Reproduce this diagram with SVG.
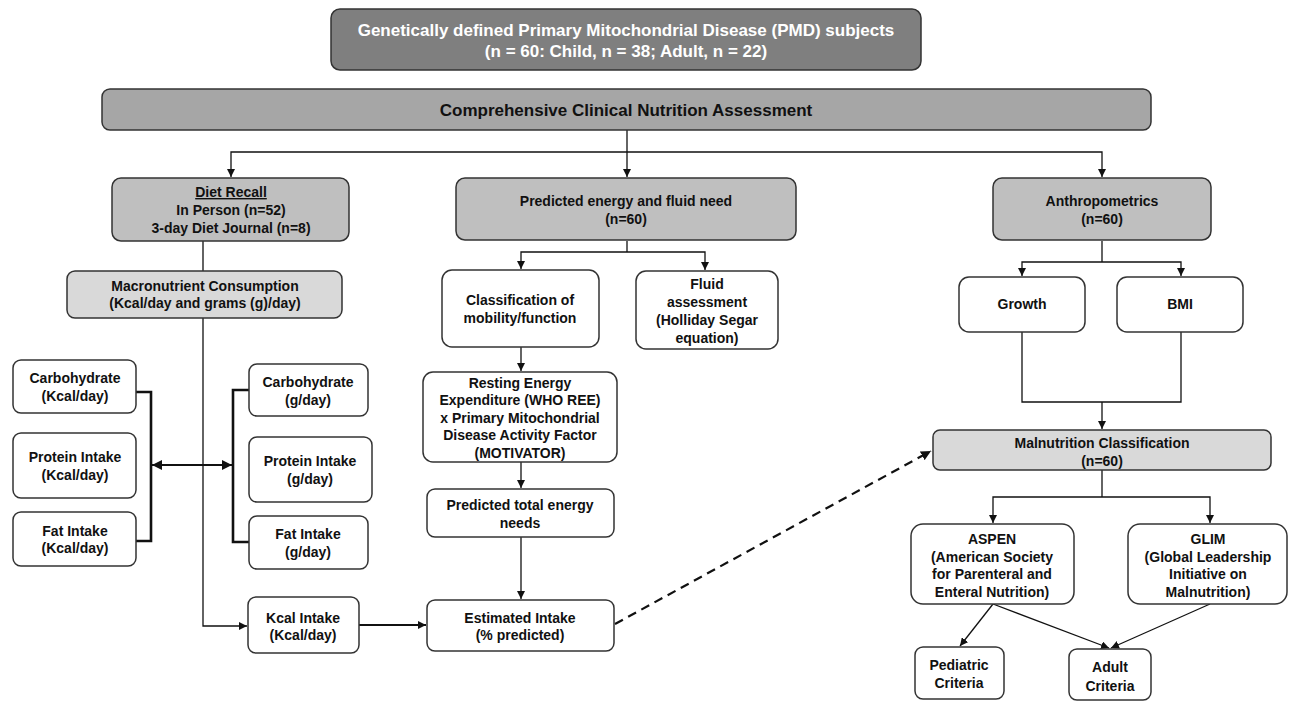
<svg xmlns="http://www.w3.org/2000/svg" width="1294" height="701" viewBox="0 0 1294 701">
<defs>
<style>
text{font-family:"Liberation Sans",Arial,sans-serif;font-weight:bold;font-size:14px;fill:#111;text-anchor:middle}
.big{font-size:17px}
.wt{fill:#fff}
.box{stroke:#333;stroke-width:1.5}
.w{fill:#fff}
.g1{fill:#7f7f7f}
.g2{fill:#a6a6a6}
.g3{fill:#bfbfbf}
.g4{fill:#d9d9d9}
.c{fill:none;stroke:#111;stroke-width:1.3}
.t{fill:none;stroke:#111;stroke-width:2.6}
.d{fill:none;stroke:#111;stroke-width:2.2;stroke-dasharray:9,6}
</style>
<marker id="a" viewBox="0 0 8 8" refX="8" refY="4" markerWidth="8" markerHeight="8" markerUnits="userSpaceOnUse" orient="auto-start-reverse">
<path d="M0,0 L8,4 L0,8 z" fill="#111"/>
</marker>
<marker id="ab" viewBox="0 0 8 8" refX="8" refY="4" markerWidth="10" markerHeight="10" markerUnits="userSpaceOnUse" orient="auto-start-reverse">
<path d="M0,0 L8,4 L0,8 z" fill="#111"/>
</marker>
</defs>

<g id="connectors">
<path class="c" d="M627,130 V177" marker-end="url(#a)"/>
<path class="c" d="M231,177 V152 H1102 V177" marker-start="url(#a)" marker-end="url(#a)"/>
<path class="c" d="M203,241 V626 H247" marker-end="url(#a)"/>
<path class="t" d="M136,392 H151 V541 H136"/>
<path class="t" d="M249,390 H233 V542 H249"/>
<path class="c" style="stroke-width:2.2" d="M152,465 H232" marker-start="url(#ab)" marker-end="url(#ab)"/>
<path class="c" d="M627,241 V252"/>
<path class="c" d="M521,269 V252 H705 V270" marker-start="url(#a)" marker-end="url(#a)"/>
<path class="c" d="M521,347 V371" marker-end="url(#a)"/>
<path class="c" d="M521,462 V488" marker-end="url(#a)"/>
<path class="c" d="M521,537 V599" marker-end="url(#a)"/>
<path class="c" style="stroke-width:2" d="M359,625 H426" marker-end="url(#a)"/>
<path class="d" d="M615,624 L931,451" marker-end="url(#ab)"/>
<path class="c" d="M1102,241 V262"/>
<path class="c" d="M1022,276 V262 H1181 V276" marker-start="url(#a)" marker-end="url(#a)"/>
<path class="c" d="M1022,332 V402 H1181 V332"/>
<path class="c" d="M1102,402 V429" marker-end="url(#a)"/>
<path class="c" d="M1102,470 V497"/>
<path class="c" d="M993,523 V497 H1210 V523" marker-start="url(#a)" marker-end="url(#a)"/>
<path class="c" d="M993,604 L960,646" marker-end="url(#a)"/>
<path class="c" d="M993,604 L1109,648" marker-end="url(#a)"/>
<path class="c" d="M1210,604 L1111,648" marker-end="url(#a)"/>
</g>

<g id="pmd">
<rect class="box g1" x="331" y="9" width="590" height="61" rx="9"/>
<text class="big wt" x="626" y="36">Genetically defined Primary Mitochondrial Disease (PMD) subjects</text>
<text class="big wt" x="626" y="57">(n = 60: Child, n = 38; Adult, n = 22)</text>
</g>

<g id="assessment">
<rect class="box g2" x="102" y="89" width="1049" height="41" rx="8"/>
<text class="big" x="626" y="116">Comprehensive Clinical Nutrition Assessment</text>
</g>

<g id="diet-recall">
<rect class="box g3" x="112" y="178" width="237" height="63" rx="9"/>
<text x="231" y="197" text-decoration="underline">Diet Recall</text>
<text x="231" y="215">In Person (n=52)</text>
<text x="231" y="233">3-day Diet Journal (n=8)</text>
</g>

<g id="predicted-energy">
<rect class="box g3" x="456" y="178" width="340" height="62" rx="9"/>
<text x="626" y="206">Predicted energy and fluid need</text>
<text x="626" y="224">(n=60)</text>
</g>

<g id="anthropometrics">
<rect class="box g3" x="993" y="178" width="218" height="62" rx="9"/>
<text x="1102" y="206">Anthropometrics</text>
<text x="1102" y="224">(n=60)</text>
</g>

<g id="macronutrient">
<rect class="box g4" x="67" y="271" width="275" height="47" rx="8"/>
<text x="205" y="291">Macronutrient Consumption</text>
<text x="205" y="308">(Kcal/day and grams (g)/day)</text>
</g>

<g id="carb-kcal">
<rect class="box w" x="13" y="360" width="123" height="53" rx="8"/>
<text x="75" y="383">Carbohydrate</text>
<text x="75" y="401">(Kcal/day)</text>
</g>
<g id="protein-kcal">
<rect class="box w" x="13" y="433" width="123" height="65" rx="8"/>
<text x="75" y="462">Protein Intake</text>
<text x="75" y="480">(Kcal/day)</text>
</g>
<g id="fat-kcal">
<rect class="box w" x="13" y="512" width="123" height="54" rx="8"/>
<text x="75" y="536">Fat Intake</text>
<text x="75" y="553">(Kcal/day)</text>
</g>

<g id="carb-g">
<rect class="box w" x="249" y="364" width="119" height="52" rx="8"/>
<text x="308" y="387">Carbohydrate</text>
<text x="308" y="405">(g/day)</text>
</g>
<g id="protein-g">
<rect class="box w" x="249" y="437" width="123" height="65" rx="8"/>
<text x="310" y="466">Protein Intake</text>
<text x="310" y="484">(g/day)</text>
</g>
<g id="fat-g">
<rect class="box w" x="249" y="516" width="119" height="53" rx="8"/>
<text x="308" y="539">Fat Intake</text>
<text x="308" y="557">(g/day)</text>
</g>

<g id="kcal-intake">
<rect class="box w" x="248" y="597" width="111" height="56" rx="8"/>
<text x="303" y="623">Kcal Intake</text>
<text x="303" y="640">(Kcal/day)</text>
</g>

<g id="classification">
<rect class="box w" x="442" y="270" width="157" height="77" rx="10"/>
<text x="520" y="305">Classification of</text>
<text x="520" y="323">mobility/function</text>
</g>

<g id="fluid">
<rect class="box w" x="636" y="271" width="142" height="78" rx="10"/>
<text x="707" y="289">Fluid</text>
<text x="707" y="307">assessment</text>
<text x="707" y="325">(Holliday Segar</text>
<text x="707" y="343">equation)</text>
</g>

<g id="ree">
<rect class="box w" x="423" y="372" width="194" height="90" rx="10"/>
<text x="520" y="388">Resting Energy</text>
<text x="520" y="405">Expenditure (WHO REE)</text>
<text x="520" y="423">x Primary Mitochondrial</text>
<text x="520" y="440">Disease Activity Factor</text>
<text x="520" y="458">(MOTIVATOR)</text>
</g>

<g id="predicted-total">
<rect class="box w" x="427" y="489" width="187" height="48" rx="8"/>
<text x="520" y="510">Predicted total energy</text>
<text x="520" y="528">needs</text>
</g>

<g id="estimated-intake">
<rect class="box w" x="427" y="600" width="187" height="51" rx="8"/>
<text x="520" y="623">Estimated Intake</text>
<text x="520" y="640">(% predicted)</text>
</g>

<g id="growth">
<rect class="box w" x="959" y="277" width="126" height="55" rx="10"/>
<text x="1022" y="309">Growth</text>
</g>

<g id="bmi">
<rect class="box w" x="1117" y="277" width="126" height="55" rx="10"/>
<text x="1180" y="309">BMI</text>
</g>

<g id="malnutrition">
<rect class="box g4" x="933" y="430" width="338" height="40" rx="7"/>
<text x="1102" y="448">Malnutrition Classification</text>
<text x="1102" y="466">(n=60)</text>
</g>

<g id="aspen">
<rect class="box w" x="911" y="524" width="163" height="80" rx="12"/>
<text x="992" y="544">ASPEN</text>
<text x="992" y="562">(American Society</text>
<text x="992" y="579">for Parenteral and</text>
<text x="992" y="597">Enteral Nutrition)</text>
</g>

<g id="glim">
<rect class="box w" x="1128" y="524" width="159" height="80" rx="12"/>
<text x="1208" y="544">GLIM</text>
<text x="1208" y="562">(Global Leadership</text>
<text x="1208" y="579">Initiative on</text>
<text x="1208" y="597">Malnutrition)</text>
</g>

<g id="pediatric">
<rect class="box w" x="915" y="647" width="89" height="52" rx="8"/>
<text x="959" y="670">Pediatric</text>
<text x="959" y="688">Criteria</text>
</g>

<g id="adult">
<rect class="box w" x="1069" y="649" width="82" height="51" rx="8"/>
<text x="1110" y="672">Adult</text>
<text x="1110" y="691">Criteria</text>
</g>
</svg>
